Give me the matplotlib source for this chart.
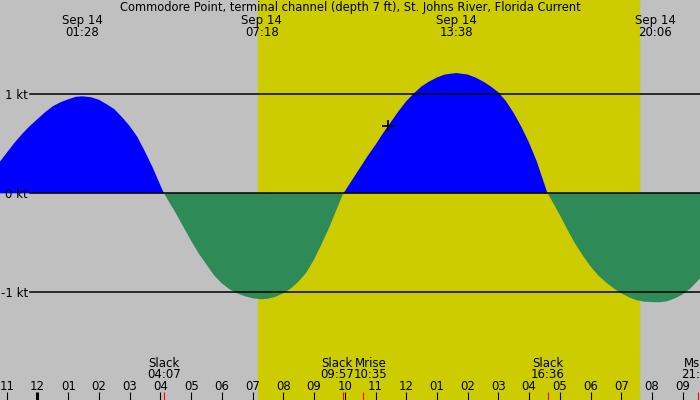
import matplotlib
matplotlib.use("Agg")
import matplotlib.pyplot as plt
from matplotlib.transforms import blended_transform_factory

title = "Commodore Point, terminal channel (depth 7 ft), St. Johns River, Florida Current"
date_label = "Sep 14"

# hours after midnight Sep 14, current speed in knots (flood +, ebb -)
hours = [-1.22, -1.0, -0.75, -0.5, -0.25, 0.0, 0.25, 0.5, 0.75, 1.0, 1.25, 1.467,
         1.75, 2.0, 2.25, 2.5, 2.75, 3.0, 3.25, 3.5, 3.75, 4.0, 4.117,
         4.25, 4.5, 4.75, 5.0, 5.25, 5.5, 5.75, 6.0, 6.25, 6.5, 6.75, 7.0, 7.3,
         7.5, 7.75, 8.0, 8.25, 8.5, 8.75, 9.0, 9.25, 9.5, 9.75, 9.95,
         10.0, 10.25, 10.5, 10.75, 11.0, 11.25, 11.5, 11.75, 12.0, 12.25, 12.5, 12.75,
         13.0, 13.25, 13.5, 13.633, 13.75, 14.0, 14.25, 14.5, 14.75, 15.0, 15.25,
         15.5, 15.75, 16.0, 16.25, 16.5, 16.6,
         16.75, 17.0, 17.25, 17.5, 17.75, 18.0, 18.25, 18.5, 18.75, 19.0, 19.25,
         19.5, 19.75, 20.1, 20.25, 20.5, 20.75, 21.0, 21.25, 21.5, 21.56]
speed = [0.32, 0.41, 0.51, 0.60, 0.68, 0.75, 0.82, 0.88, 0.92, 0.95, 0.975, 0.98,
         0.97, 0.945, 0.90, 0.85, 0.77, 0.68, 0.57, 0.42, 0.26, 0.08, 0.0,
         -0.07, -0.20, -0.34, -0.48, -0.61, -0.72, -0.83, -0.91, -0.97, -1.01, -1.04, -1.06, -1.07,
         -1.065, -1.045, -1.01, -0.96, -0.89, -0.80, -0.67, -0.51, -0.34, -0.15, 0.0,
         0.02, 0.14, 0.26, 0.38, 0.49, 0.61, 0.72, 0.83, 0.93, 1.01, 1.08, 1.13,
         1.17, 1.20, 1.21, 1.215, 1.21, 1.20, 1.17, 1.13, 1.08, 1.02, 0.93,
         0.81, 0.67, 0.51, 0.32, 0.09, 0.0,
         -0.08, -0.22, -0.37, -0.51, -0.63, -0.74, -0.83, -0.90, -0.96, -1.01, -1.05,
         -1.08, -1.095, -1.10, -1.10, -1.09, -1.06, -1.02, -0.96, -0.88, -0.86]

peak_times = ["01:28", "07:18", "13:38", "20:06"]
event_names = ["Slack", "Slack", "Mrise", "Slack", "Mset"]
event_times = ["04:07", "09:57", "10:35", "16:36", "21:29"]
sunrise = "07:10"
sunset = "19:34"
now_hour = 11.41
now_speed = 0.68
hour_ticks = list(range(-1, 22))
kt_levels = [1, 0, -1]
kt_labels = ["1 kt", "0 kt", "-1 kt"]


def to_hours(s):
    h, m = s.split(":")
    return int(h) + int(m) / 60


W, H = 700, 400
fig = plt.figure(figsize=(W / 100, H / 100), dpi=100)
ax = fig.add_axes([0, 0, 1, 1])
ax.set_xlim(-1.22, 21.56)
ax.set_ylim(-2.088, 1.953)
ax.axis("off")
ax.add_patch(plt.Rectangle((0, 0), 1, 1, transform=ax.transAxes, color="#c0c0c0", zorder=0))
ax.axvspan(to_hours(sunrise), to_hours(sunset), color="#cccc00", zorder=1)

ax.fill_between(hours, speed, 0, where=[v >= 0 for v in speed], interpolate=True,
                color="#0000ff", lw=0, zorder=2)
ax.fill_between(hours, speed, 0, where=[v <= 0 for v in speed], interpolate=True,
                color="#2e8b57", lw=0, zorder=2)

for lvl in kt_levels:
    ax.axhline(lvl, xmin=30 / W, xmax=1, color="black", lw=1.1, zorder=3)

tr = blended_transform_factory(ax.transData, ax.transAxes)
px = blended_transform_factory(ax.transAxes, ax.transData)
fs = 8.5


def fy(ypix):
    return 1 - ypix / H


for lvl, lab in zip(kt_levels, kt_labels):
    ax.text(28 / W, lvl - 0.047, lab, transform=px, ha="right", va="baseline", fontsize=fs, zorder=4)

ax.text(0.5, fy(11.5), title, transform=ax.transAxes, ha="center", va="baseline", fontsize=8.3)
for t in peak_times:
    ax.text(to_hours(t), fy(24), date_label, transform=tr, ha="center", va="baseline", fontsize=fs)
    ax.text(to_hours(t), fy(36), t, transform=tr, ha="center", va="baseline", fontsize=fs)

# hour ticks, midnight drawn heavier
for h in hour_ticks:
    lw = 2.2 if h % 24 == 0 else 0.8
    ax.vlines(h, 0, 8 / H, transform=tr, color="black", lw=lw, zorder=4)
    ax.text(h, fy(390.5), "%02d" % ((h - 1) % 12 + 1), transform=tr, ha="center",
            va="baseline", fontsize=fs, zorder=4)

label_shift = {1: -6 / 30.73, 2: 8 / 30.73}
for i, (name, t) in enumerate(zip(event_names, event_times)):
    x = to_hours(t)
    ax.vlines(x, 0, 8 / H, transform=tr, color="red", lw=0.8, zorder=5)
    lx = x + label_shift.get(i, 0)
    ax.text(lx, fy(367), name, transform=tr, ha="center", va="baseline", fontsize=fs)
    ax.text(lx, fy(378.5), t, transform=tr, ha="center", va="baseline", fontsize=fs)

ax.plot([now_hour], [now_speed], marker="+", color="black", ms=9, mew=1.3, zorder=6)

fig.savefig("out.png", dpi=100)
